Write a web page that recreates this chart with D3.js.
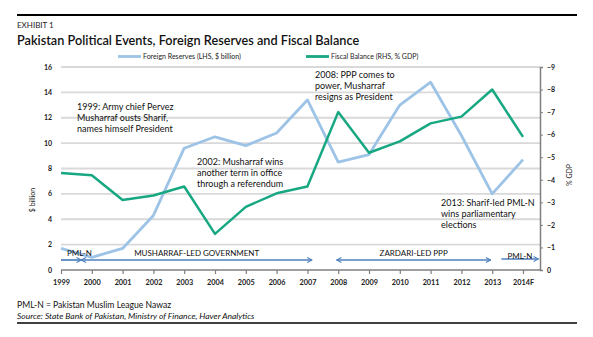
<!DOCTYPE html>
<html>
<head>
<meta charset="utf-8">
<script src="https://cdn.jsdelivr.net/npm/d3@7"></script>
<style>
  body { margin: 0; background: #fff; }
  svg { font-family: Lato, "Open Sans", sans-serif; }
</style>
</head>
<body>
<script>
const w = 593;
const h = 337;

const years = ['1999','2000','2001','2002','2003','2004','2005','2006','2007','2008','2009','2010','2011','2012','2013','2014F'];
const reserves = [1.7, 1.0, 1.7, 4.3, 9.6, 10.5, 9.8, 10.8, 13.4, 8.5, 9.1, 13.0, 14.8, 10.6, 6.0, 8.7];
const fiscal = [-4.3, -4.2, -3.1, -3.3, -3.7, -1.6, -2.8, -3.4, -3.7, -7.0, -5.2, -5.7, -6.5, -6.8, -8.0, -5.9];
const leftTicks = [0, 2, 4, 6, 8, 10, 12, 14, 16];
const rightTicks = [0, -1, -2, -3, -4, -5, -6, -7, -8, -9];

// political periods, in year positions (index along the axis)
const periods = [
  { label: 'PML-N', from: 0, to: 0.66, both: false },
  { label: 'MUSHARRAF-LED GOVERNMENT', from: 0.66, to: 8.15, both: true },
  { label: 'ZARDARI-LED PPP', from: 8.95, to: 13.95, both: true },
  { label: 'PML-N', from: 14.3, to: 15.5, both: false }
];

const notes = [
  { lines: ['1999: Army chief Pervez', 'Musharraf ousts Sharif,', 'names himself President'], x: 77, y: 110 },
  { lines: ['2002: Musharraf wins', 'another term in office', 'through a referendum'], x: 197, y: 165 },
  { lines: ['2008: PPP comes to', 'power, Musharraf', 'resigns as President'], x: 315, y: 78 },
  { lines: ['2013: Sharif-led  PML-N', 'wins parliamentary', 'elections'], x: 441, y: 206 }
];

const blue = '#9dc3e6';
const green = '#17a882';
const arrowBlue = '#4f81bd';

const xScale = d3.scalePoint().domain(years).range([61, 523]);
const step = xScale.step();
const yL = d3.scaleLinear().domain([0, 16]).range([270, 67]);
const yR = d3.scaleLinear().domain([0, -9]).range([270, 67]);
const plotRight = 540;

const svg = d3.select('body').append('svg').attr('width', w).attr('height', h);

// header / footer rules
svg.append('line').attr('x1', 17).attr('x2', 577).attr('y1', 15).attr('y2', 15)
  .attr('stroke', '#000').attr('stroke-width', 2);
svg.append('line').attr('x1', 17).attr('x2', 577).attr('y1', 323).attr('y2', 323)
  .attr('stroke', '#000').attr('stroke-width', 1.3);

svg.append('text').attr('x', 17).attr('y', 28).text('EXHIBIT 1')
  .attr('font-size', 8).attr('fill', '#222');
svg.append('text').attr('x', 17).attr('y', 44.5)
  .text('Pakistan Political Events, Foreign Reserves and Fiscal Balance')
  .attr('font-size', 12.7).attr('font-weight', 600).attr('fill', '#111');

// gridlines
svg.append('g').selectAll('line').data(leftTicks.filter(d => d > 0)).enter().append('line')
  .attr('x1', 61).attr('x2', plotRight)
  .attr('y1', d => yL(d)).attr('y2', d => yL(d))
  .attr('stroke', '#d9d9d9').attr('stroke-width', 1.8);

// left axis labels
svg.append('g').selectAll('text').data(leftTicks).enter().append('text')
  .attr('x', 52).attr('y', d => yL(d) + 2.5).attr('text-anchor', 'end')
  .attr('font-size', 7).attr('font-weight', 700).attr('fill', '#222')
  .text(d => d);

svg.append('text').attr('transform', 'translate(35,200) rotate(-90)')
  .attr('text-anchor', 'middle').attr('font-size', 7).attr('fill', '#222')
  .text('$ billion');

// x axis
const xAxis = d3.axisBottom(xScale).tickSize(4).tickPadding(6);
const gx = svg.append('g').attr('transform', 'translate(0,270)').call(xAxis);
gx.select('.domain').remove();
gx.append('line').attr('x1', 61).attr('x2', plotRight).attr('stroke', '#7f7f7f').attr('stroke-width', 1.5);
gx.selectAll('.tick line').attr('stroke', '#7f7f7f').attr('stroke-width', 1.2);
gx.selectAll('.tick text').attr('font-size', 7.3).attr('font-weight', 700).attr('fill', '#222')
  .attr('font-family', 'Lato, sans-serif');

// right axis
const yAxisR = d3.axisRight(yR).tickValues(rightTicks).tickSize(3).tickPadding(4);
const gr = svg.append('g').attr('transform', `translate(${plotRight},0)`).call(yAxisR);
gr.select('.domain').attr('stroke', '#7f7f7f').attr('stroke-width', 1.5);
gr.selectAll('.tick line').attr('stroke', '#7f7f7f');
gr.selectAll('.tick text').attr('font-size', 7).attr('font-weight', 700).attr('fill', '#222')
  .attr('font-family', 'Lato, sans-serif');

svg.append('text').attr('transform', 'translate(572,175) rotate(-90)')
  .attr('text-anchor', 'middle').attr('font-size', 7).attr('fill', '#222')
  .text('% GDP');

// lines
const lineL = d3.line().x((d, i) => xScale(years[i])).y(d => yL(d));
const lineR = d3.line().x((d, i) => xScale(years[i])).y(d => yR(d));

svg.append('path').datum(reserves).attr('d', lineL)
  .attr('fill', 'none').attr('stroke', blue).attr('stroke-width', 2.8).attr('stroke-linejoin', 'round');
svg.append('path').datum(fiscal).attr('d', lineR)
  .attr('fill', 'none').attr('stroke', green).attr('stroke-width', 2.5).attr('stroke-linejoin', 'round');

// legend
const legend = [
  { label: 'Foreign Reserves (LHS, $ billion)', color: blue, x: 118 },
  { label: 'Fiscal Balance (RHS, % GDP)', color: green, x: 306 }
];
legend.forEach(l => {
  svg.append('line').attr('x1', l.x).attr('x2', l.x + 23).attr('y1', 56.5).attr('y2', 56.5)
    .attr('stroke', l.color).attr('stroke-width', 2.8);
  svg.append('text').attr('x', l.x + 25).attr('y', 59).attr('font-size', 7).attr('fill', '#222')
    .text(l.label);
});

// annotations
notes.forEach(n => {
  const t = svg.append('text').attr('font-size', 9).attr('fill', '#111');
  n.lines.forEach((s, i) => {
    t.append('tspan').attr('x', n.x).attr('y', n.y + i * 11).text(s);
  });
});

// period arrows
const defs = svg.append('defs');
defs.append('marker').attr('id', 'head').attr('viewBox', '0 0 10 10')
  .attr('refX', 9).attr('refY', 5).attr('markerWidth', 6).attr('markerHeight', 7)
  .attr('orient', 'auto-start-reverse').attr('markerUnits', 'userSpaceOnUse')
  .append('path').attr('d', 'M1,1 L9,5 L1,9').attr('fill', 'none')
  .attr('stroke', arrowBlue).attr('stroke-width', 1.8);

const px = v => xScale(years[0]) + v * step;
periods.forEach((p, i) => {
  const ay = i === 3 ? 259 : 260;
  svg.append('line').attr('x1', px(p.from)).attr('x2', px(p.to))
    .attr('y1', ay).attr('y2', ay)
    .attr('stroke', arrowBlue).attr('stroke-width', 1.7)
    .attr('marker-end', 'url(#head)')
    .attr('marker-start', p.both ? 'url(#head)' : null);
  const lx = i === 0 ? px(0) + 6 : (px(p.from) + px(p.to)) / 2;
  svg.append('text').attr('x', lx).attr('y', i === 3 ? 259 : 256)
    .attr('text-anchor', i === 0 ? 'start' : 'middle')
    .attr('font-size', 8).attr('fill', '#111').text(p.label);
});

// footnotes
svg.append('text').attr('x', 17).attr('y', 308).attr('font-size', 8.6).attr('fill', '#111')
  .text('PML-N = Pakistan Muslim League Nawaz');
svg.append('text').attr('x', 17).attr('y', 319).attr('font-size', 8.5).attr('font-style', 'italic')
  .attr('fill', '#111').text('Source: State Bank of Pakistan, Ministry of Finance, Haver Analytics');
</script>
</body>
</html>
